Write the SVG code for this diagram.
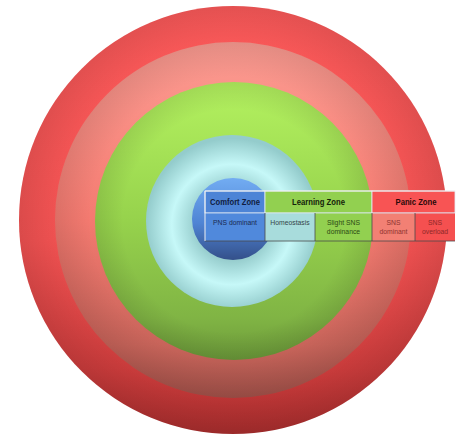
<svg xmlns="http://www.w3.org/2000/svg" width="465" height="434" viewBox="0 0 465 434">
<defs>
<linearGradient id="gRed" x1="0" y1="0" x2="0" y2="1">
<stop offset="0" stop-color="#fd5a5a"/>
<stop offset="0.55" stop-color="#f25252"/>
<stop offset="0.85" stop-color="#cc3c3c"/>
<stop offset="1" stop-color="#ac2e2e"/>
</linearGradient>
<linearGradient id="gPink" x1="0" y1="0" x2="0" y2="1">
<stop offset="0" stop-color="#fc9c92"/>
<stop offset="0.5" stop-color="#f47a70"/>
<stop offset="0.85" stop-color="#c8645a"/>
<stop offset="1" stop-color="#a4524a"/>
</linearGradient>
<linearGradient id="gGreen" x1="0" y1="0" x2="0" y2="1">
<stop offset="0" stop-color="#b4f260"/>
<stop offset="0.5" stop-color="#96d24c"/>
<stop offset="0.85" stop-color="#80b444"/>
<stop offset="1" stop-color="#6c9a3a"/>
</linearGradient>
<radialGradient id="gCyan" cx="0.5" cy="0.52" r="0.5">
<stop offset="0" stop-color="#5e8c98"/>
<stop offset="0.45" stop-color="#9cd2d2"/>
<stop offset="0.7" stop-color="#c6f8f8"/>
<stop offset="1" stop-color="#94cccc"/>
</radialGradient>
<linearGradient id="gBlue" x1="0" y1="0" x2="0" y2="1">
<stop offset="0" stop-color="#72acf2"/>
<stop offset="0.55" stop-color="#4f84d4"/>
<stop offset="1" stop-color="#34508a"/>
</linearGradient>
<radialGradient id="gRim" cx="0.5" cy="0.5" r="0.5">
<stop offset="0.8" stop-color="#000" stop-opacity="0"/>
<stop offset="1" stop-color="#000" stop-opacity="0.1"/>
</radialGradient>
</defs>
<style>
.hd{font-family:"Liberation Sans",Arial,sans-serif;font-weight:bold;font-size:8.6px;text-anchor:middle}
.bd{font-family:"Liberation Sans",Arial,sans-serif;font-size:6.8px;text-anchor:middle}
.cell{stroke:#e6eef8;stroke-width:0.8}
.dv{stroke:#4a4a4a;stroke-width:0.8}
</style>
<g id="panic-ring">
<circle cx="233" cy="220" r="214" fill="url(#gRed)"/>
<circle cx="233" cy="220" r="214" fill="url(#gRim)"/>
</g>
<g id="panic-inner-ring">
<circle cx="233" cy="220" r="178" fill="url(#gPink)"/>
<circle cx="233" cy="220" r="178" fill="url(#gRim)"/>
</g>
<g id="learning-ring">
<circle cx="234" cy="221" r="139" fill="url(#gGreen)"/>
<circle cx="234" cy="221" r="139" fill="url(#gRim)"/>
</g>
<g id="learning-inner-ring">
<circle cx="232" cy="221" r="86" fill="url(#gCyan)"/>
</g>
<g id="comfort-core">
<circle cx="233" cy="219" r="41" fill="url(#gBlue)"/>
</g>
<g id="table">
<g id="h-comfort">
<rect class="cell" x="205" y="191" width="60" height="22" fill="#4d84d6"/>
<text class="hd" x="235" y="205" fill="#101c40" textLength="50" lengthAdjust="spacingAndGlyphs">Comfort Zone</text>
</g>
<g id="h-learning">
<rect class="cell" x="265" y="191" width="107" height="22" fill="#92d050"/>
<text class="hd" x="318.5" y="205" fill="#14220a" textLength="53" lengthAdjust="spacingAndGlyphs">Learning Zone</text>
</g>
<g id="h-panic">
<rect class="cell" x="372" y="191" width="83" height="22" fill="#f85454"/>
<text class="hd" x="416" y="205" fill="#2a0a0a" textLength="41" lengthAdjust="spacingAndGlyphs">Panic Zone</text>
</g>
<g id="c-pns">
<rect x="205" y="213" width="60" height="28" fill="#5089dc"/>
<text class="bd" x="235" y="224.5" fill="#1a2a50">PNS dominant</text>
</g>
<g id="c-homeostasis">
<rect x="265" y="213" width="50" height="28" fill="#a8dcdc"/>
<text class="bd" x="290" y="224.5" fill="#34444a">Homeostasis</text>
</g>
<g id="c-slight">
<rect x="315" y="213" width="57" height="28" fill="#92d050"/>
<text class="bd" x="343.5" y="224.5" fill="#2c4a14">Slight  SNS</text>
<text class="bd" x="343.5" y="233.5" fill="#2c4a14">dominance</text>
</g>
<g id="c-sns-dominant">
<rect x="372" y="213" width="43" height="28" fill="#f28074"/>
<text class="bd" x="393.5" y="224.5" fill="#8e3430">SNS</text>
<text class="bd" x="393.5" y="233.5" fill="#8e3430">dominant</text>
</g>
<g id="c-sns-overload">
<rect x="415" y="213" width="40" height="28" fill="#f55050"/>
<text class="bd" x="435" y="224.5" fill="#8e2828">SNS</text>
<text class="bd" x="435" y="233.5" fill="#8e2828">overload</text>
</g>
<g id="table-lines">
<line x1="205" y1="213" x2="455" y2="213" stroke="#dbe6f2" stroke-width="0.8"/>
<line class="dv" x1="265" y1="213" x2="265" y2="241"/>
<line class="dv" x1="315" y1="213" x2="315" y2="241"/>
<line class="dv" x1="372" y1="213" x2="372" y2="241"/>
<line class="dv" x1="415" y1="213" x2="415" y2="241"/>
<line class="dv" x1="205" y1="241" x2="455" y2="241"/>
<line x1="205" y1="191" x2="455" y2="191" stroke="#f0f0f0" stroke-width="1"/>
<line x1="205" y1="191" x2="205" y2="241" stroke="#f0f0f0" stroke-width="1"/>
</g>
</g>
</svg>
